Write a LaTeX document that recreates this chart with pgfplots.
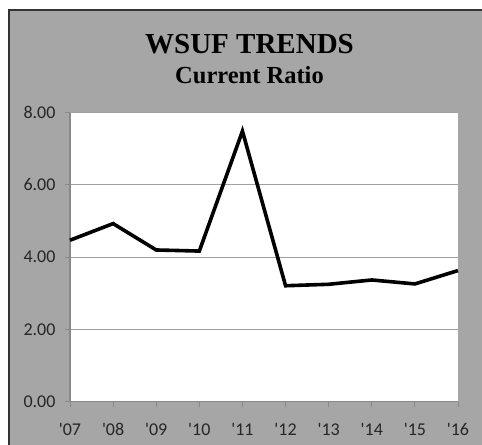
\documentclass[border=0pt]{standalone}
\usepackage{pgfplots}
\pgfplotsset{compat=1.18}
\usepackage{fontspec}
\setmainfont{Carlito}
\newfontfamily\titlefont{Liberation Serif}

\definecolor{panel}{RGB}{166,166,166}
\definecolor{frame}{RGB}{51,51,51}
\definecolor{gridgray}{RGB}{160,160,160}
\definecolor{axisgray}{RGB}{136,136,136}

\begin{document}
\begin{tikzpicture}
\useasboundingbox (0,0) rectangle (482bp,445bp);
% chart panel with its frame; only its top and left edges fall inside the page
\fill[white] (0,0) rectangle (482bp,445bp);
\fill[panel] (9bp,0) rectangle (482bp,435bp);
\draw[frame, line width=2bp] (9bp,0) -- (9bp,435bp) -- (482bp,435bp);

\node[anchor=base, font=\titlefont\bfseries\fontsize{29bp}{30bp}\selectfont] at (249.5bp,391.5bp) {WSUF TRENDS};
\node[anchor=base, font=\titlefont\bfseries\fontsize{24.5bp}{26bp}\selectfont] at (249.5bp,361.7bp) {Current Ratio};

\begin{axis}[
  at={(70bp,43.3bp)}, anchor=south west,
  scale only axis, width=388bp, height=289bp,
  xmin=0, xmax=9, ymin=0, ymax=8,
  axis background/.style={fill=white},
  axis x line*=bottom, axis y line*=left,
  axis line style={axisgray, line width=1.3bp},
  tick align=outside, major tick length=5bp,
  tick style={axisgray, line width=1bp},
  xtick={0,...,9},
  xticklabels={\textquotesingle07,\textquotesingle08,\textquotesingle09,\textquotesingle10,\textquotesingle11,\textquotesingle12,\textquotesingle13,\textquotesingle14,\textquotesingle15,\textquotesingle16},
  ytick={0,2,4,6,8},
  /pgf/number format/fixed,
  /pgf/number format/fixed zerofill,
  /pgf/number format/precision=2,
  /pgf/number format/assume math mode=true,
  ymajorgrids, grid style={gridgray, line width=1bp},
  tick label style={font=\fontsize{18bp}{20bp}\selectfont, text=black!85},
  xticklabel style={yshift=-13bp},
  yticklabel style={xshift=-6bp},
  clip=false,
]
\addplot[black, line width=3.6bp, line join=miter, miter limit=4] coordinates {
  (0,4.47) (1,4.93) (2,4.20) (3,4.17) (4,7.49)
  (5,3.21) (6,3.25) (7,3.37) (8,3.26) (9,3.63)
};
\end{axis}
\end{tikzpicture}
\end{document}
